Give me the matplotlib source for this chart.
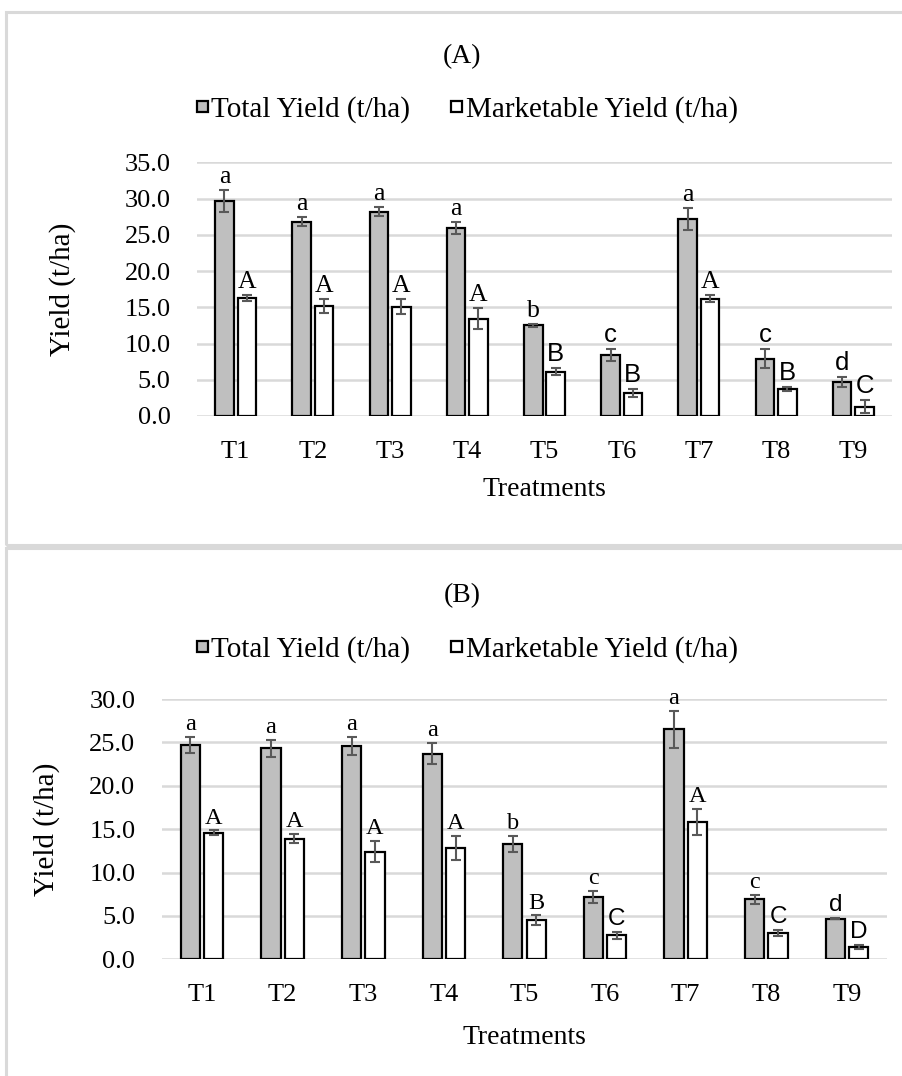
import numpy as np
import matplotlib
matplotlib.use("Agg")
import matplotlib.pyplot as plt
from matplotlib.patches import Rectangle

plt.rcParams['font.family'] = ['Liberation Serif', 'DejaVu Serif']

treatments = ["T1", "T2", "T3", "T4", "T5", "T6", "T7", "T8", "T9"]

# panel A
total_a = [29.7, 26.8, 28.2, 25.9, 12.5, 8.4, 27.2, 7.9, 4.7]
total_a_err = [1.5, 0.6, 0.65, 0.85, 0.2, 0.85, 1.55, 1.3, 0.65]
market_a = [16.3, 15.2, 15.1, 13.4, 6.1, 3.2, 16.2, 3.7, 1.3]
market_a_err = [0.4, 0.95, 1.0, 1.45, 0.5, 0.55, 0.5, 0.3, 0.9]
letters_total_a = ["a", "a", "a", "a", "b", "c", "a", "c", "d"]
letters_market_a = ["A", "A", "A", "A", "B", "B", "A", "B", "C"]
sans_total_a = [0, 0, 0, 0, 0, 1, 0, 1, 1]
sans_market_a = [0, 0, 0, 0, 1, 1, 0, 1, 1]

# panel B
total_b = [24.7, 24.3, 24.6, 23.7, 13.3, 7.2, 26.5, 6.9, 4.7]
total_b_err = [0.9, 1.0, 1.05, 1.2, 0.9, 0.7, 2.1, 0.5, 0.1]
market_b = [14.6, 13.9, 12.4, 12.8, 4.5, 2.75, 15.8, 3.0, 1.4]
market_b_err = [0.25, 0.5, 1.2, 1.4, 0.55, 0.4, 1.5, 0.35, 0.25]
letters_total_b = ["a", "a", "a", "a", "b", "c", "a", "c", "d"]
letters_market_b = ["A", "A", "A", "A", "B", "C", "A", "C", "D"]
sans_total_b = [0, 0, 0, 0, 0, 0, 0, 0, 1]
sans_market_b = [0, 0, 0, 0, 0, 1, 0, 1, 1]

W, H = 903, 1076
fig = plt.figure(figsize=(W / 100, H / 100), dpi=100)

GRID = '#d9d9d9'
BAR_GRAY = '#bfbfbf'
ERR = '#595959'


def px_axes(left, top, right, bottom):
    return fig.add_axes([left / W, 1 - bottom / H, (right - left) / W, (bottom - top) / H])


def draw_panel(ax, title, total, total_err, market, market_err, lt, lm, st, sm,
               ymax, title_y, legend_y, ylab_x, xlab_y, letter_size):
    x = np.arange(len(treatments))
    w = 0.24
    b1 = ax.bar(x - 0.145, total, w, color=BAR_GRAY, edgecolor='black', linewidth=1.6,
                zorder=2, label="Total Yield (t/ha)")
    b2 = ax.bar(x + 0.145, market, w, color='white', edgecolor='black', linewidth=1.6,
                zorder=2, label="Marketable Yield (t/ha)")
    ax.errorbar(x - 0.145, total, yerr=total_err, fmt='none', ecolor=ERR, elinewidth=1.5,
                capsize=3.5, capthick=1.5, zorder=3)
    ax.errorbar(x + 0.145, market, yerr=market_err, fmt='none', ecolor=ERR, elinewidth=1.5,
                capsize=3.5, capthick=1.5, zorder=3)

    for i in range(len(treatments)):
        for xx, v, e, txt, s in [(x[i] - 0.145, total[i], total_err[i], lt[i], st[i]),
                                 (x[i] + 0.145, market[i], market_err[i], lm[i], sm[i])]:
            fam = ['Liberation Sans', 'DejaVu Sans'] if s else ['Liberation Serif', 'DejaVu Serif']
            ax.annotate(txt, (xx, v + e), xytext=(0, 5), textcoords='offset points',
                        ha='center', va='baseline', fontsize=letter_size, family=fam, zorder=4)

    ax.set_xlim(-0.5, len(treatments) - 0.5)
    ax.set_ylim(0, ymax)
    ax.set_yticks(np.arange(0, ymax + 0.1, 5))
    ax.set_yticklabels(["%.1f" % v for v in np.arange(0, ymax + 0.1, 5)])
    ax.set_xticks(x)
    ax.set_xticklabels(treatments)
    ax.tick_params(axis='both', length=0, labelsize=19)
    ax.tick_params(axis='y', pad=19)
    ax.tick_params(axis='x', pad=18)
    ax.yaxis.grid(True, color=GRID, linewidth=1.8)
    ax.set_axisbelow(True)
    for sp in ax.spines.values():
        sp.set_visible(False)

    ax.set_xlabel("Treatments", fontsize=20, va='center')
    ax.xaxis.set_label_coords(0.5, xlab_y)
    ax.set_ylabel("Yield (t/ha)", fontsize=21, va='center')
    ax.yaxis.set_label_coords(ylab_x, 0.5)

    fig.text(462 / W, 1 - title_y / H, title, ha='center', va='center', fontsize=20)
    fig.legend(handles=[b1, b2], loc='center', bbox_to_anchor=(467 / W, 1 - legend_y / H),
               ncol=2, frameon=False, fontsize=21, handlelength=0.38, handleheight=0.24,
               handletextpad=0.12, columnspacing=1.4)


# panel borders
fig.add_artist(Rectangle((6 / W, 1 - 545 / H), 1.0, (545 - 12) / H, transform=fig.transFigure,
                         fill=False, edgecolor=GRID, linewidth=2.2))
fig.add_artist(Rectangle((6 / W, -0.1), 1.0, (1 - 548 / H) + 0.1, transform=fig.transFigure,
                         fill=False, edgecolor=GRID, linewidth=2.2))

ax_a = px_axes(197, 162.3, 892, 416)
draw_panel(ax_a, "(A)", total_a, total_a_err, market_a, market_a_err, letters_total_a,
           letters_market_a, sans_total_a, sans_market_a, 35, 57, 110,
           (63 - 197) / 695, -74 / 253.7, 18.5)

ax_b = px_axes(161.7, 699, 887.3, 959.3)
draw_panel(ax_b, "(B)", total_b, total_b_err, market_b, market_b_err, letters_total_b,
           letters_market_b, sans_total_b, sans_market_b, 30, 596, 650,
           (47 - 161.7) / 725.6, -78 / 260.3, 17.5)

plt.savefig("out.png", dpi=100)
